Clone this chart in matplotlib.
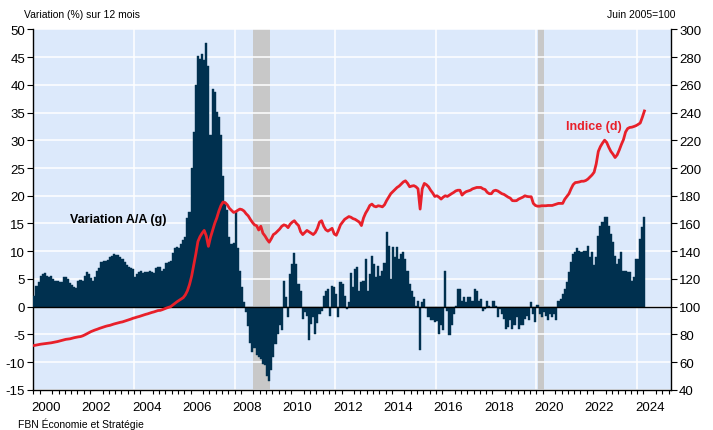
import numpy as np
import matplotlib
matplotlib.use("Agg")
import matplotlib.pyplot as plt

plt.rcParams["font.family"] = ["Liberation Sans", "DejaVu Sans"]

# monthly data, Jan 2000 .. Apr 2024
start_year = 2000

# year-over-year change (%), left axis
yoy = [
    2.0, 3.7, 4.5, 5.6, 5.8, 6.0, 5.5, 5.3, 5.6, 5.0, 4.7, 4.6,            # 2000
    4.4, 4.5, 5.3, 5.4, 5.0, 4.3, 3.9, 3.6, 3.3, 4.6, 4.8, 4.6,            # 2001
    5.5, 6.3, 5.8, 5.2, 4.7, 5.3, 6.4, 7.0, 8.0, 8.3, 8.3, 8.5,            # 2002
    8.9, 9.2, 9.5, 9.4, 9.4, 9.0, 8.6, 8.0, 7.6, 7.2, 7.0, 6.8,            # 2003
    5.3, 5.8, 6.2, 6.5, 6.0, 6.2, 6.3, 6.5, 6.2, 6.0, 7.0, 7.1,            # 2004
    7.1, 6.5, 6.8, 7.8, 8.0, 8.2, 9.6, 10.6, 10.8, 10.6, 11.3, 12.0,       # 2005
    12.5, 16.0, 17.0, 25.0, 31.5, 40.0, 45.3, 44.7, 45.5, 44.5, 47.5, 43.5,  # 2006
    31.0, 39.2, 38.7, 35.1, 34.2, 31.0, 23.6, 18.8, 17.5, 12.5, 11.3, 11.5,  # 2007
    17.0, 10.5, 6.5, 3.5, 0.8, -1.0, -3.5, -6.5, -8.2, -7.5, -8.8, -9.0,   # 2008
    -9.5, -10.3, -10.6, -12.5, -13.4, -11.5, -9.1, -6.7, -4.9, -3.4, -4.3, 4.7,  # 2009
    1.7, -1.9, 5.9, 7.7, 9.6, 7.7, 4.0, 2.9, -2.2, -1.0, -1.6, -6.1,       # 2010
    -3.1, -1.9, -4.9, -3.0, -1.3, -0.7, 2.0, 2.9, 3.2, -1.6, 3.8, 3.5,     # 2011
    2.3, -1.9, 4.5, 4.1, 2.0, -0.4, 0.8, 6.0, 3.5, 6.8, 7.1, 2.9,          # 2012
    4.4, 4.7, 8.6, 2.9, 5.9, 9.2, 7.7, 5.3, 7.4, 5.6, 6.5, 7.8,            # 2013
    13.4, 11.0, 5.0, 10.7, 8.9, 10.8, 8.6, 9.5, 9.8, 8.6, 6.5, 4.1,        # 2014
    2.9, 1.7, 0.2, 1.1, -7.9, 0.8, 1.4, -0.3, -1.9, -2.5, -2.5, -2.8,      # 2015
    -2.6, -4.9, -3.4, -4.3, 6.5, -0.7, -5.2, -3.4, -1.3, 0.2, 3.2, 3.2,    # 2016
    1.1, 1.7, 0.8, 1.8, 1.7, 1.1, 3.2, 2.9, 1.1, 1.4, -0.7, -0.4,          # 2017
    1.1, 0.2, -0.1, 1.1, 0.2, -1.9, -0.4, -1.3, -2.2, -4.0, -3.7, -2.5,    # 2018
    -4.0, -3.4, -1.9, -4.0, -3.4, -3.4, -2.2, -1.6, -2.5, 0.8, -1.3, -2.8, # 2019
    0.3, -1.3, -1.9, -1.0, -1.6, -2.5, -1.3, -1.9, -1.3, -2.5, 1.1, 1.4,   # 2020
    2.3, 3.2, 4.5, 6.2, 8.0, 9.5, 9.8, 10.5, 10.1, 9.8, 10.1, 10.1,        # 2021
    10.9, 8.9, 9.8, 7.5, 9.0, 12.8, 14.6, 15.2, 16.1, 16.1, 14.6, 13.1,    # 2022
    11.6, 9.2, 7.7, 8.6, 9.9, 6.5, 6.4, 6.2, 6.2, 4.7, 5.3, 8.6,           # 2023
    8.6, 12.2, 14.3, 16.1,                                                 # 2024
]

# index, June 2005 = 100, right axis
index = [
    72.0, 72.3, 72.6, 72.9, 73.1, 73.3, 73.5, 73.7, 73.9, 74.2, 74.5, 74.8,          # 2000
    75.2, 75.6, 76.0, 76.4, 76.6, 76.8, 77.2, 77.6, 77.9, 78.2, 78.4, 78.9,          # 2001
    79.6, 80.4, 81.2, 82.0, 82.6, 83.2, 83.7, 84.3, 84.8, 85.3, 85.8, 86.2,          # 2002
    86.5, 87.0, 87.5, 87.9, 88.3, 88.7, 89.0, 89.5, 90.0, 90.5, 91.0, 91.6,          # 2003
    92.0, 92.5, 92.9, 93.4, 93.9, 94.4, 94.8, 95.3, 95.8, 96.2, 96.7, 97.2,          # 2004
    97.3, 97.8, 98.4, 99.0, 99.5, 100.0, 101.2, 102.3, 103.5, 104.5, 105.5, 106.5,   # 2005
    108.5, 111.5, 116.0, 122.0, 130.0, 138.0, 147.0, 150.5, 153.0, 155.0, 151.0, 143.5,  # 2006
    150.0, 155.0, 160.0, 164.0, 169.0, 173.0, 175.5, 175.0, 173.5, 171.0, 169.5, 168.0,  # 2007
    168.5, 169.5, 170.4, 170.0, 169.0, 167.0, 165.5, 163.0, 160.8, 159.0, 158.4, 155.3,  # 2008
    158.0, 153.0, 151.0, 148.5, 146.5, 149.0, 152.0, 153.0, 154.5, 156.0, 158.0, 159.0,  # 2009
    158.5, 157.0, 159.5, 161.0, 162.0, 160.0, 158.5, 154.0, 152.0, 153.5, 155.0, 154.0,  # 2010
    153.0, 152.0, 153.5, 156.5, 161.0, 162.0, 158.0, 155.5, 154.5, 155.5, 156.5, 152.5,  # 2011
    151.5, 155.0, 159.0, 161.0, 163.0, 164.0, 165.0, 164.5, 163.5, 163.0, 162.0, 161.0,  # 2012
    158.5, 164.0, 167.5, 170.0, 173.0, 174.0, 172.5, 172.0, 172.8, 172.5, 172.0, 173.5,  # 2013
    176.5, 179.0, 181.5, 183.0, 184.5, 186.0, 187.0, 188.5, 190.0, 190.8, 189.0, 186.5,  # 2014
    187.0, 187.3, 186.5, 185.0, 170.4, 185.0, 188.9, 188.0, 186.5, 184.0, 182.0, 179.5,  # 2015
    180.0, 179.0, 177.6, 179.0, 180.0, 179.5, 180.5, 181.5, 182.4, 183.5, 184.0, 184.0,  # 2016
    180.5, 182.0, 183.0, 183.5, 184.0, 185.0, 185.5, 186.0, 186.0, 186.0, 185.0, 184.5,  # 2017
    182.5, 181.5, 181.5, 183.5, 184.0, 183.5, 182.5, 181.5, 181.0, 180.0, 179.0, 178.3,  # 2018
    176.5, 176.4, 176.5, 177.6, 178.3, 179.0, 180.0, 179.5, 179.3, 179.3, 174.5, 173.0,  # 2019
    172.5, 172.5, 172.8, 172.8, 172.8, 173.0, 173.0, 173.0, 173.5, 174.0, 174.5, 174.5,  # 2020
    174.5, 177.5, 179.5, 181.5, 185.0, 188.0, 189.5, 189.7, 190.0, 190.5, 190.5, 191.0,  # 2021
    192.0, 193.5, 195.0, 197.0, 203.0, 212.0, 215.5, 218.0, 220.1, 218.5, 215.0, 212.0,  # 2022
    210.0, 207.6, 209.5, 213.0, 217.0, 220.5, 226.0, 228.5, 229.3, 229.5, 230.0, 230.6,  # 2023
    231.5, 232.5, 236.6, 241.2,                                                          # 2024
]

recessions = [(2008.75, 2009.41), (2020.05, 2020.30)]

left_ticks = list(range(-15, 51, 5))
right_ticks = list(range(40, 301, 20))
year_labels = list(range(2000, 2025, 2))

assert len(yoy) == len(index)
t = start_year + (np.arange(len(yoy)) + 0.5) / 12.0

BG = "#DCE9FB"
NAVY = "#00304F"
RED = "#E8202A"

fig = plt.figure(figsize=(7.13, 4.31), dpi=100)
ax = fig.add_axes([0.0468, 0.0933, 0.894, 0.836])
ax.set_facecolor(BG)

for a, b in recessions:
    ax.axvspan(a, b, color="#C8C8C8", lw=0, zorder=1)

ax.bar(t, yoy, width=1 / 12.0, color=NAVY, edgecolor=NAVY, linewidth=0.3, zorder=3)
ax.axhline(0, color="black", lw=1.0, zorder=4)

ax.set_xlim(2000, 2025.34)
ax.set_ylim(-15, 50)
ax.set_yticks(left_ticks)
ax.set_yticklabels([str(v) for v in left_ticks], fontsize=9.5)

# white grid: horizontal at each 5 pts, vertical every 4 years
for v in left_ticks:
    ax.axhline(v, color="white", lw=1.1, zorder=2)
for yr in range(2004, 2025, 4):
    ax.axvline(yr, color="white", lw=1.1, zorder=2)

ax.set_xticks(np.arange(2000, 2025.3, 0.25), minor=True)
ax.set_xticks([y + 0.5 for y in year_labels])
ax.set_xticklabels([str(y) for y in year_labels], fontsize=9.5)
ax.tick_params(axis="x", which="major", length=0, pad=8)
ax.tick_params(axis="x", which="minor", length=3, width=0.8, direction="out")
ax.tick_params(axis="y", length=4, width=0.8, direction="out", pad=2)

for s in ["top"]:
    ax.spines[s].set_visible(False)
ax.spines["right"].set_visible(False)
ax.spines["left"].set_linewidth(1.0)
ax.spines["bottom"].set_linewidth(1.0)

ax2 = ax.twinx()
ax2.plot(t, index, color=RED, lw=2.0, zorder=5, solid_joinstyle="round")
ax2.set_ylim(40, 300)
ax2.set_yticks(right_ticks)
ax2.set_yticklabels([str(v) for v in right_ticks], fontsize=9.5)
ax2.tick_params(axis="y", length=4, width=0.8, direction="out", pad=2)
ax2.spines["top"].set_visible(False)
ax2.spines["left"].set_visible(False)
ax2.spines["bottom"].set_visible(False)
ax2.spines["right"].set_linewidth(1.0)

ax.text(2001.45, 15.8, "Variation A/A (g)", fontsize=9, fontweight="bold",
        color="black", va="center", ha="left", zorder=6)
ax2.text(2021.18, 230.5, "Indice (d)", fontsize=9, fontweight="bold",
         color=RED, va="center", ha="left", zorder=6)

fig.text(0.033, 0.965, "Variation (%) sur 12 mois", fontsize=7.5, va="center", ha="left")
fig.text(0.948, 0.965, "Juin 2005=100", fontsize=7.5, va="center", ha="right")
fig.text(0.025, 0.016, "FBN Économie et Stratégie", fontsize=7.5, va="center", ha="left")

fig.savefig("out.png", dpi=100)
